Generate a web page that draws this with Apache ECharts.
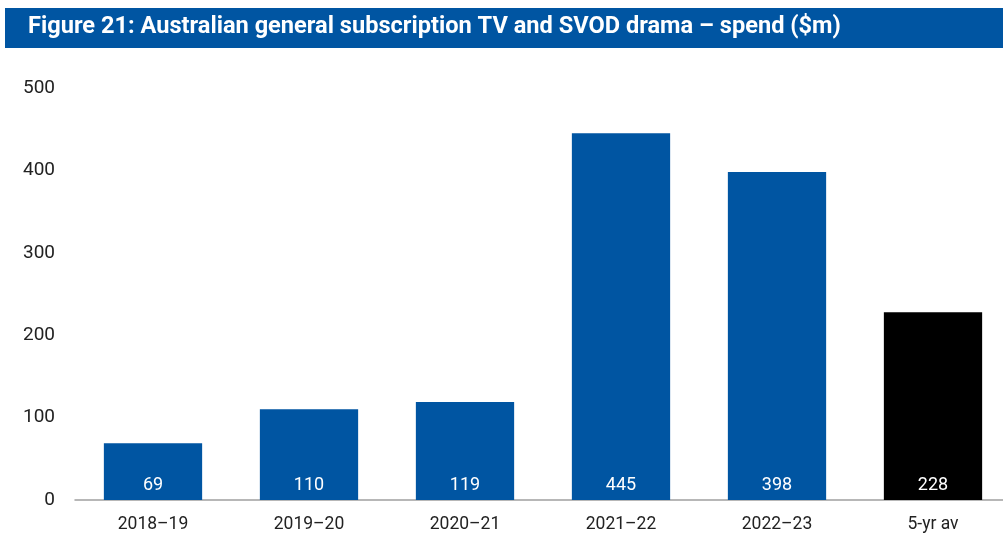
<!DOCTYPE html>
<html><head><meta charset="utf-8">
<script src="https://cdn.jsdelivr.net/npm/echarts@6/dist/echarts.min.js"></script>
<style>html,body{margin:0;padding:0;background:#fff;overflow:hidden;width:1003px;height:537px}#c{width:1011px;height:537px}</style>
</head><body><div id="c"></div>
<script>
const categories = ['2018–19','2019–20','2020–21','2021–22','2022–23','5-yr av'];
const spend = [69,110,119,445,398,228];
const barColors = ['#0055A2','#0055A2','#0055A2','#0055A2','#0055A2','#000000'];
const yTicks = [0,100,200,300,400,500];
const titleText = 'Figure 21: Australian general subscription TV and SVOD drama – spend ($m)';

const chart = echarts.init(document.getElementById('c'));
chart.setOption({
  animation:false,
  graphic:[
    {type:'rect',shape:{x:5,y:8,width:1006,height:40},style:{fill:'#0055A2'}},
    {type:'text',left:28,top:15,style:{text:titleText,fill:'#fff',font:'bold 23.6px Roboto'}}
  ],
  grid:{left:75,right:0,top:88,bottom:37},
  xAxis:{type:'category',data:categories,
    axisLine:{lineStyle:{color:'#a0a0a0',width:1.5}},axisTick:{show:false},
    axisLabel:{color:'#222',fontSize:17.5,fontFamily:'Roboto',margin:16}},
  yAxis:{type:'value',min:yTicks[0],max:yTicks[yTicks.length-1],interval:100,
    axisLine:{show:false},axisTick:{show:false},splitLine:{show:false},
    axisLabel:{color:'#222',fontSize:19,fontFamily:'Roboto',margin:20}},
  series:[{type:'bar',barWidth:'63%',
    data:spend.map((v,i)=>({value:v,itemStyle:{color:barColors[i]}})),
    label:{show:true,position:'insideBottom',distance:6,color:'#fff',fontSize:18,fontFamily:'Roboto'}}]
});
</script></body></html>
